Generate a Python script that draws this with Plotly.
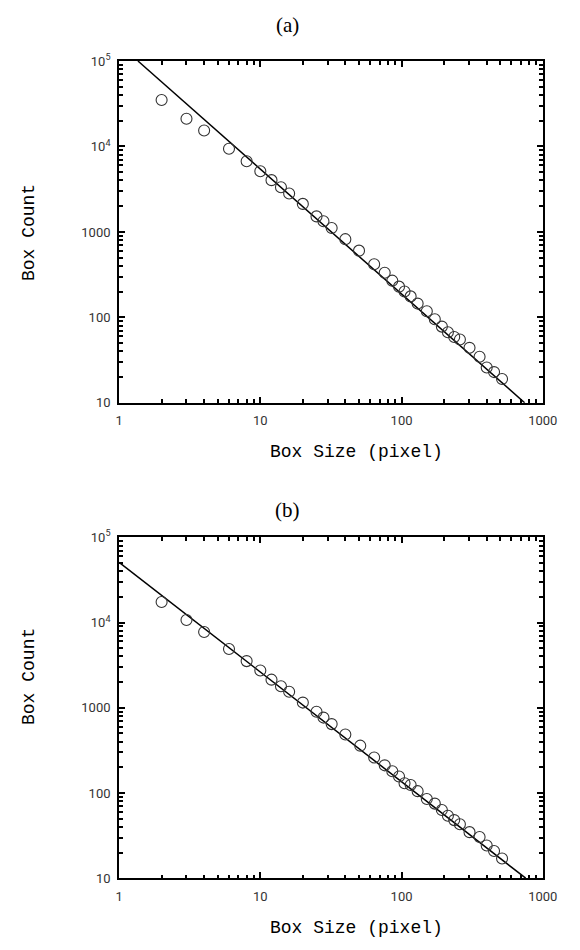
import plotly.graph_objects as go

# ---- data ----
box_size_a = [2, 3, 4, 6, 8, 10, 12, 14, 16, 20, 25, 28, 32, 40, 50, 64, 76, 86, 96, 105,
              116, 130, 151, 172, 193, 213, 236, 259, 303, 357, 401, 452, 515]
box_count_a = [35000, 21100, 15400, 9400, 6730, 5130, 4040, 3330, 2820, 2130, 1520, 1333, 1110,
               823, 604, 418, 333, 269, 229, 201, 176, 145, 118, 95, 78, 67, 59, 55, 44, 34.6,
               25.9, 22.9, 19]
fit_x_a = [1.36, 745]
fit_y_a = [100000, 10]

box_size_b = [2, 3, 4, 6, 8, 10, 12, 14, 16, 20, 25, 28, 32, 40, 51, 64, 76, 86, 96, 105,
              116, 130, 151, 172, 193, 213, 236, 259, 303, 357, 401, 452, 515]
box_count_b = [17400, 10700, 7740, 4900, 3530, 2735, 2137, 1790, 1540, 1150, 899, 767, 643,
               485, 359, 261, 211, 180, 156, 130, 124, 105, 85, 75, 63, 54, 48, 43, 34.7, 30.4,
               24.2, 20.8, 17]
fit_x_b = [1, 757]
fit_y_b = [51000, 10]

x_tickvals = [1, 10, 100, 1000]
x_ticktext = ["1", "10", "100", "1000"]
y_tickvals = [10, 100, 1000, 10000, 100000]
y_ticktext = ["10", "100", "1000", "10<sup>4</sup>", "10<sup>5</sup>"]
panel_titles = ["(a)", "(b)"]
x_title = "Box Size (pixel)"
y_title = "Box Count"

W, H = 580, 950
minor_x = [m * 10 ** k for k in range(0, 3) for m in range(2, 10)]
minor_y = [m * 10 ** k for k in range(1, 5) for m in range(2, 10)]

fig = go.Figure()

panels = [
    (box_size_a, box_count_a, fit_x_a, fit_y_a, "x", "y"),
    (box_size_b, box_count_b, fit_x_b, fit_y_b, "x2", "y2"),
]
for xs, ys, fx, fy, xa, ya in panels:
    fig.add_trace(go.Scatter(x=fx, y=fy, mode="lines", xaxis=xa, yaxis=ya,
                             line=dict(color="black", width=1.5), showlegend=False,
                             cliponaxis=True))
    fig.add_trace(go.Scatter(x=xs, y=ys, mode="markers", xaxis=xa, yaxis=ya,
                             marker=dict(symbol="circle-open", size=11, color="#333333",
                                         line=dict(width=1.1)),
                             showlegend=False))

font_tick = dict(family="Roboto", size=13, color="#333333")


def xaxis_cfg(domain, anchor):
    return dict(type="log", range=[0, 3], domain=domain, anchor=anchor,
                showline=True, linecolor="black", linewidth=2, mirror="allticks",
                ticks="inside", ticklen=6, tickwidth=1.5, tickcolor="black",
                tickmode="array", tickvals=x_tickvals, ticktext=x_ticktext,
                tickfont=font_tick, showgrid=False, zeroline=False,
                ticklabelstandoff=5,
                minor=dict(tickmode="array", tickvals=minor_x, ticks="inside",
                           ticklen=3.5, tickwidth=1.5, tickcolor="black", showgrid=False))


def yaxis_cfg(domain, anchor):
    return dict(type="log", range=[1, 5], domain=domain, anchor=anchor,
                showline=True, linecolor="black", linewidth=2, mirror="allticks",
                ticks="inside", ticklen=6, tickwidth=1.5, tickcolor="black",
                tickmode="array", tickvals=y_tickvals, ticktext=y_ticktext,
                tickfont=font_tick, showgrid=False, zeroline=False,
                ticklabelstandoff=4,
                minor=dict(tickmode="array", tickvals=minor_y, ticks="inside",
                           ticklen=3.5, tickwidth=1.5, tickcolor="black", showgrid=False))


xd = [119 / W, 557 / W]
fig.update_layout(
    width=W, height=H,
    margin=dict(l=0, r=0, t=0, b=0),
    paper_bgcolor="white", plot_bgcolor="white",
    xaxis=xaxis_cfg(xd, "y"),
    yaxis=yaxis_cfg([1 - 401 / H, 1 - 53 / H], "x"),
    xaxis2=xaxis_cfg(xd, "y2"),
    yaxis2=yaxis_cfg([1 - 885 / H, 1 - 538 / H], "x2"),
)

ann = []
title_font = dict(family="Liberation Serif", size=21, color="black")
lab_font = dict(family="Liberation Mono", size=18, color="black")
for t, ty in zip(panel_titles, [16, 510]):
    ann.append(dict(text=t, x=293 / W, y=1 - ty / H, xref="paper", yref="paper",
                    showarrow=False, font=title_font, xanchor="center", yanchor="middle"))
for ty in [451, 936]:
    ann.append(dict(text=x_title, x=364 / W, y=1 - ty / H, xref="paper", yref="paper",
                    showarrow=False, font=lab_font, xanchor="center", yanchor="middle"))
for ty in [228, 680]:
    ann.append(dict(text=y_title, x=26 / W, y=1 - ty / H, xref="paper", yref="paper",
                    showarrow=False, font=lab_font, textangle=-90,
                    xanchor="center", yanchor="middle"))
fig.update_layout(annotations=ann)

fig.write_html("out.html")
